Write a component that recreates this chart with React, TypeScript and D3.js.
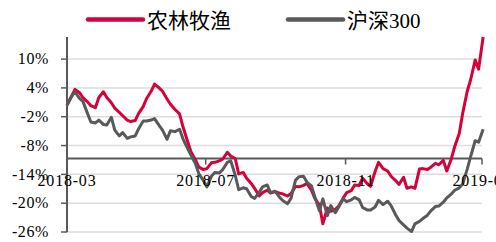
import React, { useEffect, useRef } from 'react';
import * as d3 from 'd3';

// trading dates sampled roughly every 3-4 days
const dates = [
  '2018-03-01', '2018-03-05', '2018-03-08', '2018-03-12', '2018-03-15', '2018-03-19', '2018-03-22', '2018-03-26', '2018-03-29',
  '2018-04-02', '2018-04-05', '2018-04-09', '2018-04-12', '2018-04-16', '2018-04-19', '2018-04-23', '2018-04-26', '2018-04-30',
  '2018-05-03', '2018-05-07', '2018-05-10', '2018-05-14', '2018-05-17', '2018-05-21', '2018-05-24', '2018-05-28', '2018-05-31',
  '2018-06-04', '2018-06-08', '2018-06-11', '2018-06-15', '2018-06-18', '2018-06-22', '2018-06-25', '2018-06-29',
  '2018-07-02', '2018-07-06', '2018-07-09', '2018-07-13', '2018-07-16', '2018-07-20', '2018-07-23', '2018-07-27', '2018-07-30',
  '2018-08-03', '2018-08-06', '2018-08-10', '2018-08-13', '2018-08-17', '2018-08-20', '2018-08-24', '2018-08-27', '2018-08-31',
  '2018-09-04', '2018-09-07', '2018-09-11', '2018-09-14', '2018-09-18', '2018-09-21', '2018-09-25', '2018-09-28',
  '2018-10-02', '2018-10-05', '2018-10-09', '2018-10-12', '2018-10-16', '2018-10-19', '2018-10-23', '2018-10-26', '2018-10-30',
  '2018-11-02', '2018-11-06', '2018-11-09', '2018-11-13', '2018-11-16', '2018-11-20', '2018-11-23', '2018-11-27', '2018-11-30',
  '2018-12-04', '2018-12-08', '2018-12-11', '2018-12-15', '2018-12-18', '2018-12-22', '2018-12-25', '2018-12-29',
  '2019-01-01', '2019-01-05', '2019-01-08', '2019-01-12', '2019-01-15', '2019-01-19', '2019-01-22', '2019-01-26', '2019-01-29',
  '2019-02-02', '2019-02-05', '2019-02-09', '2019-02-12', '2019-02-16', '2019-02-19', '2019-02-23', '2019-02-26',
  '2019-03-02'
];

// cumulative return, %
const agriValues = [
  0.4, 2.3, 3.7, 3.0, 2.0, 1.1, 0.3, -0.1, 2.0,
  3.2, 2.0, 0.9, -0.2, -1.1, -1.8, -2.7, -3.0, -2.8,
  -1.3, 0.1, 1.8, 3.3, 4.8, 4.0, 3.3, 1.7, 0.6,
  -0.5, -1.4, -4.1, -7.1, -9.3, -11.0, -12.5, -13.0,
  -12.8, -11.6, -11.5, -11.2, -10.8, -9.4, -10.2, -10.7, -13.9,
  -13.6, -14.8, -15.9, -16.9, -18.5, -17.8, -17.3, -17.9, -17.6,
  -17.9, -18.1, -18.5, -18.0, -16.5, -16.6, -16.3, -15.9,
  -17.3, -19.0, -20.4, -24.3, -21.0, -21.7, -21.3, -20.6, -18.9,
  -17.8, -17.4, -16.2, -16.3, -14.8, -15.9, -16.5, -13.4, -11.5,
  -12.8, -13.3, -14.4, -15.3, -16.1, -14.6, -16.9, -16.6,
  -16.9, -12.9, -12.8, -13.0, -12.5, -11.7, -12.0, -11.1, -13.3,
  -10.8, -8.2, -5.5, -1.3, 3.3, 5.7, 9.8, 7.9,
  14.6
];

const hs300Values = [
  0.4, 2.2, 3.2, 1.8, 1.2, -1.3, -3.1, -3.3, -2.7,
  -3.6, -3.7, -2.1, -4.8, -6.0, -5.3, -6.5, -6.2, -6.0,
  -4.5, -2.9, -2.9, -2.7, -2.4, -3.8, -4.8, -6.7, -4.9,
  -5.1, -4.6, -6.6, -8.6, -10.0, -11.8, -13.9, -15.3,
  -16.6, -14.4, -13.6, -13.7, -13.0, -11.5, -11.2, -14.2, -17.2,
  -16.8, -17.0, -18.6, -19.0, -17.8, -16.6, -16.2, -17.8, -17.5,
  -18.8, -19.5, -20.1, -19.0, -15.2, -14.5, -14.4, -15.6,
  -16.4, -18.7, -21.6, -19.1, -22.6, -20.5, -22.0, -20.8, -19.1,
  -19.7, -19.3, -18.8, -19.3, -20.9, -21.4, -21.4, -20.8, -19.4,
  -20.3, -19.6, -20.5, -22.4, -23.6, -24.5, -25.2, -25.9,
  -24.3, -23.8, -23.2, -22.5, -21.6, -20.7, -20.6, -19.8, -18.9,
  -18.1, -17.3, -16.8, -16.0, -12.9, -10.3, -7.0, -7.3,
  -4.6
];

const seriesNames = ['农林牧渔', '沪深300'];
const seriesColors = ['#d6003b', '#595959'];
const yTicks = [10, 4, -2, -8, -14, -20, -26];
const xTickDates = ['2018-03-01', '2018-07-01', '2018-11-01', '2019-03-01'];
const xTickLabels = ['2018-03', '2018-07', '2018-11', '2019-03'];

export default function App() {
  const svgRef = useRef<SVGSVGElement>(null);
  const width = 496;
  const height = 242;

  useEffect(() => {
    if (!svgRef.current) return;
    const svg = d3.select(svgRef.current);
    svg.selectAll('*').remove();

    const parse = d3.timeParse('%Y-%m-%d');
    const left = 67, right = 482, top = 37, bottom = 232;

    const x = d3.scaleTime()
      .domain([parse('2018-03-01')!, parse('2019-03-01')!])
      .range([left, right]);
    const y = d3.scaleLinear().domain([-26, 14.6]).range([bottom, top]);
    const crossAt = -10.7;

    // grid
    svg.append('g')
      .selectAll('line')
      .data(yTicks)
      .enter()
      .append('line')
      .attr('x1', left)
      .attr('x2', right)
      .attr('y1', d => y(d))
      .attr('y2', d => y(d))
      .attr('stroke', '#dcdcdc')
      .attr('stroke-width', 1.5);

    // horizontal category axis
    svg.append('line')
      .attr('x1', left).attr('x2', right)
      .attr('y1', y(crossAt)).attr('y2', y(crossAt))
      .attr('stroke', '#595959')
      .attr('stroke-width', 2);

    svg.append('g')
      .selectAll('line')
      .data(xTickDates)
      .enter()
      .append('line')
      .attr('x1', d => x(parse(d)!))
      .attr('x2', d => x(parse(d)!))
      .attr('y1', y(crossAt))
      .attr('y2', y(crossAt) + 6)
      .attr('stroke', '#595959')
      .attr('stroke-width', 1.5);

    // series
    const series = [agriValues, hs300Values];
    series.forEach((vals, si) => {
      const line = d3.line<number>()
        .x((_d, i) => x(parse(dates[i])!))
        .y(d => y(d));
      svg.append('path')
        .datum(vals)
        .attr('d', line)
        .attr('fill', 'none')
        .attr('stroke', seriesColors[si])
        .attr('stroke-width', 3)
        .attr('stroke-linejoin', 'round');
    });

    // value axis
    svg.append('line')
      .attr('x1', left).attr('x2', left)
      .attr('y1', top).attr('y2', bottom)
      .attr('stroke', '#595959')
      .attr('stroke-width', 2);

    svg.append('g')
      .selectAll('line')
      .data(yTicks)
      .enter()
      .append('line')
      .attr('x1', left - 6)
      .attr('x2', left)
      .attr('y1', d => y(d))
      .attr('y2', d => y(d))
      .attr('stroke', '#595959')
      .attr('stroke-width', 1.5);

    svg.append('g')
      .selectAll('text')
      .data(yTicks)
      .enter()
      .append('text')
      .attr('x', 49)
      .attr('y', d => y(d))
      .attr('dy', '0.33em')
      .attr('text-anchor', 'end')
      .style('font-family', '"Liberation Serif", serif')
      .style('font-size', '16px')
      .style('letter-spacing', '0.6px')
      .style('fill', '#000')
      .text(d => `${d}%`);

    svg.append('g')
      .selectAll('text')
      .data(xTickDates)
      .enter()
      .append('text')
      .attr('x', d => x(parse(d)!))
      .attr('y', 186)
      .attr('text-anchor', 'middle')
      .style('font-family', '"Liberation Serif", serif')
      .style('font-size', '16px')
      .style('letter-spacing', '0.8px')
      .style('fill', '#000')
      .text((_d, i) => xTickLabels[i]);

    // legend
    const legendX = [88, 288];
    seriesNames.forEach((name, i) => {
      svg.append('line')
        .attr('x1', legendX[i]).attr('x2', legendX[i] + 55)
        .attr('y1', 19.5).attr('y2', 19.5)
        .attr('stroke', seriesColors[i])
        .attr('stroke-width', 4.5)
        .attr('stroke-linecap', 'round');
      svg.append('text')
        .attr('x', legendX[i] + 59)
        .attr('y', 27.5)
        .style('font-family', '"Liberation Serif", "Noto Sans CJK SC", serif')
        .style('font-size', '21px')
        .style('fill', '#000')
        .text(name);
    });
  }, []);

  return (
    <div>
      <style>{'body{margin:0}'}</style>
      <svg ref={svgRef} width={width} height={height} style={{ display: 'block' }} />
    </div>
  );
}
